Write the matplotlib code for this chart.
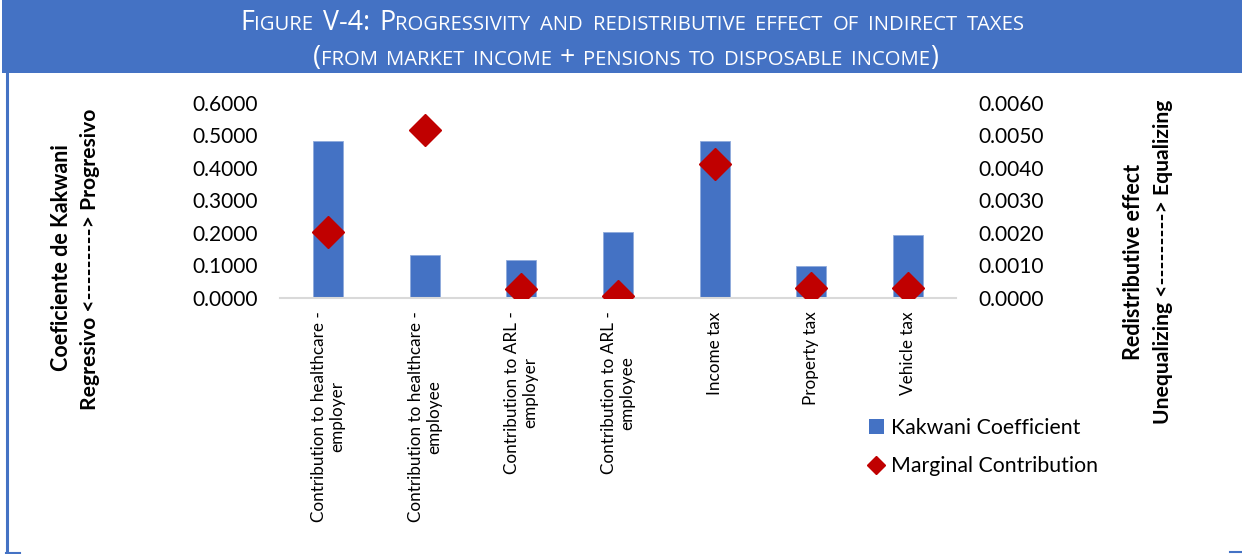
import matplotlib
matplotlib.use("Agg")
import matplotlib.pyplot as plt
from matplotlib.patches import Patch, Rectangle
from matplotlib.lines import Line2D
from matplotlib.ticker import FormatStrFormatter, MultipleLocator

# ---- data -------------------------------------------------------------
categories = [
    "Contribution to healthcare -\nemployer",
    "Contribution to healthcare -\nemployee",
    "Contribution to ARL -\nemployer",
    "Contribution to ARL -\nemployee",
    "Income tax",
    "Property tax",
    "Vehicle tax",
]
kakwani = [0.483, 0.130, 0.117, 0.202, 0.482, 0.098, 0.194]
marginal = [0.00203, 0.00516, 0.00026, 0.00006, 0.00413, 0.00029, 0.00028]

title_lines = [
    "Figure V-4: Progressivity and redistributive effect of indirect taxes",
    "(from market income + pensions to disposable income)",
]

BLUE = "#4472C4"
RED = "#C00000"
FONT = "Lato"
TITLE_FONT = "Open Sans"

plt.rcParams["font.family"] = [FONT, "DejaVu Sans"]

W, H = 1242, 554
fig = plt.figure(figsize=(W / 100, H / 100), dpi=100)
fig.patch.set_facecolor("white")


def px(x, y):
    """pixel coords (from top-left) -> figure fraction"""
    return x / W, 1 - y / H


# ---- banner & frame ---------------------------------------------------
fig.add_artist(Rectangle(px(2, 73), (W - 2) / W, 73 / H, transform=fig.transFigure,
                         facecolor=BLUE, edgecolor="none", zorder=0))
fig.add_artist(Line2D([6.5 / W, 6.5 / W], [1 - 73 / H, 1 - 553 / H],
                      transform=fig.transFigure, color=BLUE, lw=2.2))
fig.add_artist(Line2D([5.5 / W, 20 / W], [1 - 552.5 / H, 1 - 552.5 / H],
                      transform=fig.transFigure, color=BLUE, lw=1.5))
fig.add_artist(Line2D([1230 / W, 1242 / W], [1 - 551.5 / H, 1 - 551.5 / H],
                      transform=fig.transFigure, color=BLUE, lw=1.5))


def small_caps(text, left, right, yb, big, small, color="white"):
    """Draw text in small capitals, words spread evenly between left and right."""
    renderer = fig.canvas.get_renderer()
    words = []
    for word in text.split(" "):
        runs = []
        for ch in word:
            is_small = ch.islower()
            if runs and runs[-1][1] == is_small:
                runs[-1][0] += ch.upper()
            else:
                runs.append([ch.upper(), is_small])
        pieces = []
        for s, is_small in runs:
            t = fig.text(0, 0, s, fontsize=small if is_small else big, color=color,
                         family=[TITLE_FONT, "DejaVu Sans"], ha="left", va="baseline")
            pieces.append((t, t.get_window_extent(renderer).width))
        words.append(pieces)
    total = sum(w for pieces in words for _, w in pieces)
    gap = (right - left - total) / max(len(words) - 1, 1)
    x = left
    for pieces in words:
        for t, w in pieces:
            t.set_position(px(x, yb))
            x += w
        x += gap


small_caps(title_lines[0], 240, 1025, 30.5, 19.3, 14.6)
small_caps(title_lines[1], 313, 938, 65, 19.3, 14.6)

# ---- axes -------------------------------------------------------------
x0, x1 = 280, 956
ytop, ybot = 103, 297.5
ax = fig.add_axes([x0 / W, 1 - ybot / H, (x1 - x0) / W, (ybot - ytop) / H])
pos = list(range(len(categories)))
ax.bar(pos, kakwani, width=0.31, color=BLUE, edgecolor="#8FAADC", linewidth=0.6, zorder=2)
ax.set_xlim(-0.5, len(categories) - 0.5)
ax.set_ylim(0, 0.6)
ax.yaxis.set_major_locator(MultipleLocator(0.1))
ax.yaxis.set_major_formatter(FormatStrFormatter("%.4f"))
for s in ["top", "right", "left"]:
    ax.spines[s].set_visible(False)
ax.spines["bottom"].set_color("#D9D9D9")
ax.spines["bottom"].set_linewidth(1.5)
ax.tick_params(axis="y", length=0, labelsize=15, pad=16)
ax.tick_params(axis="x", length=0, pad=10)
ax.set_xticks(pos)
ax.set_xticklabels(categories, rotation=90, fontsize=12.3, ha="center", va="top",
                   multialignment="center")
ax.patch.set_alpha(0)

ax2 = ax.twinx()
ax2.plot(pos, marginal, linestyle="none", marker="D", markersize=16.5, color=RED,
         markeredgecolor=RED, zorder=3)
ax2.set_ylim(0, 0.006)
ax2.yaxis.set_major_locator(MultipleLocator(0.001))
ax2.yaxis.set_major_formatter(FormatStrFormatter("%.4f"))
for s in ["top", "right", "left", "bottom"]:
    ax2.spines[s].set_visible(False)
ax2.tick_params(axis="y", length=0, labelsize=15, pad=16)

# ---- axis titles ------------------------------------------------------
fig.text(*px(61, 258), "Coeficiente de Kakwani", rotation=90, fontsize=15.5,
         fontweight="bold", ha="center", va="center")
fig.text(*px(90, 259), "Regresivo <---------> Progresivo", rotation=90, fontsize=15.2,
         fontweight="bold", ha="center", va="center")
fig.text(*px(1133, 262), "Redistributive effect", rotation=90, fontsize=15.5,
         fontweight="bold", ha="center", va="center")
fig.text(*px(1163, 262), "Unequalizing <---------> Equalizing", rotation=90, fontsize=15.2,
         fontweight="bold", ha="center", va="center")

# ---- legend -----------------------------------------------------------
handles = [
    Patch(facecolor=BLUE, edgecolor="none", label="Kakwani Coefficient"),
    Line2D([], [], linestyle="none", marker="D", markersize=9, color=RED,
           label="Marginal Contribution"),
]
fig.legend(handles=handles, loc="upper left", bbox_to_anchor=px(869, 418),
           frameon=False, fontsize=15.3, handlelength=0.7, handleheight=0.7,
           handletextpad=0.35, labelspacing=0.85, borderaxespad=0, borderpad=0)

fig.savefig("out.png", dpi=100)
